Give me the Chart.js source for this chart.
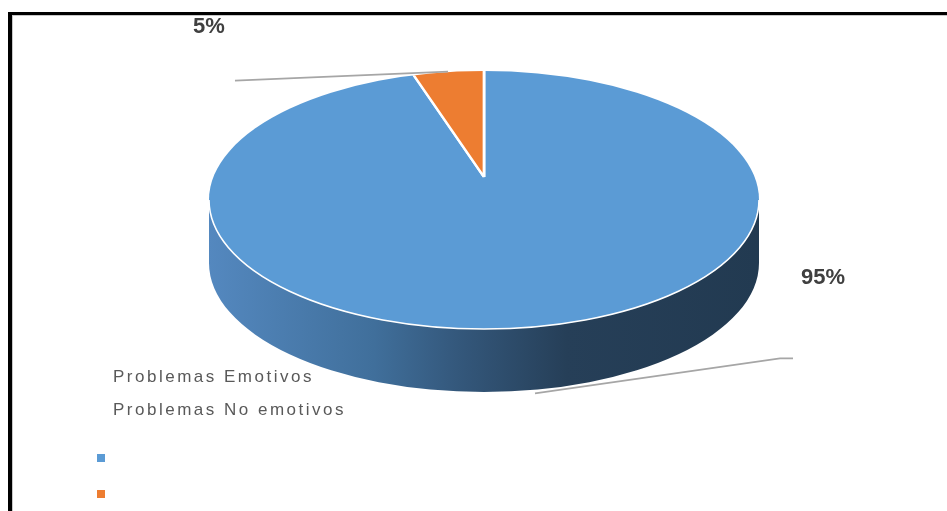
<!DOCTYPE html>
<html>
<head>
<meta charset="utf-8">
<script src="https://cdn.jsdelivr.net/npm/chart.js@4.4.0/dist/chart.umd.min.js"></script>
<style>
  html, body { margin: 0; padding: 0; background: #fff; overflow: hidden; }
  #wrap { position: relative; width: 947px; height: 511px; overflow: hidden; }
  #frame {
    position: absolute; left: 8px; top: 12px; width: 1000px; height: 600px;
    border-left: 4px solid #000; border-top: 3px solid #000;
    box-shadow: inset 1px 1px 0 #c8c8c8;
  }
  canvas { position: absolute; left: 0; top: 0; }
</style>
</head>
<body>
<div id="wrap">
  <div id="frame"></div>
  <canvas id="chart" width="947" height="511"></canvas>
</div>
<script>
// Data
const categories = ['Problemas Emotivos', 'Problemas No emotivos'];
const shares = [95, 5];
const percentLabels = ['95%', '5%'];
const sliceColors = ['#5B9BD5', '#ED7D31'];

// Look of the tilted disc: the slice apex sits above the disc centre (perspective)
const disc = { rx: 275, ry: 129, depth: 63, drop: 23, spreadX: 340, spreadY: 160 };
const sideStops = [
  [0.00, '#5488bf'], [0.30, '#406f9b'], [0.45, '#34587c'],
  [0.65, '#263f58'], [1.00, '#223a51']
];
// Callout geometry relative to each slice's anchor on the disc edge
const callouts = [
  { line: [[8, 3], [253, -32], [266, -32]], text: [296, -112], front: true },
  { line: [[7, -1], [-206, 8]], text: [-232, -46], front: false }
];

function anchorFor(arc, cx, cy, front) {
  const mid = (arc.startAngle + arc.endAngle) / 2;
  return {
    x: cx + disc.rx * Math.cos(mid),
    y: cy + disc.ry * Math.sin(mid) + (front ? disc.depth : 0)
  };
}

function discCentre(chart) {
  const a = chart.getDatasetMeta(0).data[0];
  return { ax: a.x, ay: a.y, R: a.outerRadius, cx: a.x, cy: a.y + disc.drop };
}

const tiltedPie = {
  id: 'tiltedPie',
  beforeDatasetsDraw(chart) {
    const ctx = chart.ctx;
    const arcs = chart.getDatasetMeta(0).data;
    const { ax, ay, R, cx, cy } = discCentre(chart);

    // Side wall of the front half
    const grad = ctx.createLinearGradient(cx - disc.rx, 0, cx + disc.rx, 0);
    sideStops.forEach(([p, c]) => grad.addColorStop(p, c));
    arcs.forEach(arc => {
      [0, 2 * Math.PI].forEach(shift => {
        const t0 = Math.max(arc.startAngle, shift);
        const t1 = Math.min(arc.endAngle, shift + Math.PI);
        if (t1 <= t0) return;
        ctx.save();
        ctx.beginPath();
        ctx.ellipse(cx, cy, disc.rx, disc.ry, 0, t0, t1, false);
        ctx.ellipse(cx, cy + disc.depth, disc.rx, disc.ry, 0, t1, t0, true);
        ctx.closePath();
        ctx.fillStyle = grad;
        ctx.fill();
        ctx.restore();
      });
    });

    // Top face: slices spread from the apex, trimmed to the disc outline
    ctx.save();
    ctx.beginPath();
    ctx.ellipse(cx, cy, disc.rx, disc.ry, 0, 0, 2 * Math.PI);
    ctx.clip();
    ctx.translate(ax, ay);
    ctx.scale(disc.spreadX / R, disc.spreadY / R);
    ctx.translate(-ax, -ay);
  },
  afterDatasetsDraw(chart) {
    const ctx = chart.ctx;
    ctx.restore();

    const arcs = chart.getDatasetMeta(0).data;
    const { cx, cy } = discCentre(chart);

    // Light rim where the top face meets the wall
    ctx.save();
    ctx.strokeStyle = '#ffffff';
    ctx.lineWidth = 1.6;
    ctx.beginPath();
    ctx.ellipse(cx, cy, disc.rx, disc.ry, 0, 0, Math.PI);
    ctx.stroke();
    ctx.restore();

    arcs.forEach((arc, i) => {
      const c = callouts[i];
      const a = anchorFor(arc, cx, cy, c.front);
      ctx.save();
      ctx.strokeStyle = '#a6a6a6';
      ctx.lineWidth = 1.6;
      ctx.beginPath();
      c.line.forEach(([dx, dy], k) => {
        if (k === 0) ctx.moveTo(a.x + dx, a.y + dy);
        else ctx.lineTo(a.x + dx, a.y + dy);
      });
      ctx.stroke();
      ctx.fillStyle = '#404040';
      ctx.font = 'bold 22px "Liberation Sans", Arial, sans-serif';
      ctx.textAlign = 'center';
      ctx.textBaseline = 'middle';
      ctx.fillText(percentLabels[i], a.x + c.text[0], a.y + c.text[1]);
      ctx.restore();
    });
  },
  afterDraw(chart) {
    // Legend: names listed above, colour keys below
    const ctx = chart.ctx;
    ctx.save();
    ctx.fillStyle = '#595959';
    ctx.font = '17px "Liberation Sans", Arial, sans-serif';
    ctx.textAlign = 'left';
    ctx.textBaseline = 'alphabetic';
    if ('letterSpacing' in ctx) ctx.letterSpacing = '2.5px';
    chart.data.labels.forEach((name, i) => {
      ctx.fillText(name, 113, 382 + i * 33);
    });
    ctx.restore();
    chart.data.datasets[0].backgroundColor.forEach((col, i) => {
      ctx.save();
      ctx.fillStyle = col;
      ctx.fillRect(97, 454 + i * 36, 8, 8);
      ctx.restore();
    });
  }
};

new Chart(document.getElementById('chart'), {
  type: 'pie',
  data: {
    labels: categories,
    datasets: [{
      data: shares,
      backgroundColor: sliceColors,
      borderColor: '#ffffff',
      borderWidth: 1.2
    }]
  },
  options: {
    responsive: false,
    animation: false,
    events: [],
    layout: { padding: { left: 334, right: 313, top: 27, bottom: 184 } },
    plugins: { legend: { display: false }, tooltip: { enabled: false } }
  },
  plugins: [tiltedPie]
});
</script>
</body>
</html>
